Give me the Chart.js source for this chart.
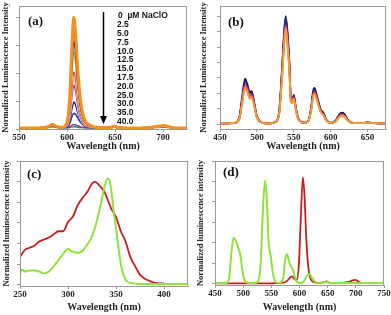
<!DOCTYPE html>
<html>
<head>
<meta charset="utf-8">
<script src="https://cdn.jsdelivr.net/npm/chart.js@4.4.1/dist/chart.umd.min.js"></script>
<style>
  html, body { margin: 0; padding: 0; background: #fff; }
  #wrap { position: relative; width: 391px; height: 315px; overflow: hidden; }
  canvas { position: absolute; }
</style>
</head>
<body>
<div id="wrap">
  <canvas id="chartA" width="195" height="152" style="left:0;top:0"></canvas>
  <canvas id="chartB" width="196" height="152" style="left:195px;top:0"></canvas>
  <canvas id="chartC" width="195" height="158" style="left:0;top:155px"></canvas>
  <canvas id="chartD" width="196" height="158" style="left:195px;top:155px"></canvas>
</div>
<script>
// ---- panel (a): Eu emission vs NaClO dose ----
var doses = ['0', '2.5', '5.0', '7.5', '10.0', '12.5', '15.0', '17.5', '20.0', '25.0', '30.0', '35.0', '40.0']
var doseColors = ['#f5901e', '#d9262b', '#2c2c9e', '#76c043', '#fff6c8', '#e0445a', '#f7cfd2', '#b03a48', '#ffffff', '#1c1c7a', '#2e3fb0', '#8a3fa0', '#3aa050']
var wlA = [550, 565, 575, 580, 585, 590, 595, 600, 603, 605, 607, 609, 611, 614, 618, 623, 630, 640, 645, 649, 654, 665, 685, 695, 701, 707, 715, 725]
var emA = [
  [0.01, 0.01, 0.012, 0.02, 0.04, 0.02, 0.015, 0.06, 0.31, 0.71, 1.0, 0.86, 0.56, 0.26, 0.09, 0.04, 0.015, 0.012, 0.015, 0.025, 0.013, 0.01, 0.012, 0.025, 0.032, 0.018, 0.01, 0.01],
  [0.01, 0.01, 0.012, 0.02, 0.04, 0.02, 0.015, 0.055, 0.277, 0.633, 0.89, 0.766, 0.5, 0.233, 0.081, 0.037, 0.015, 0.012, 0.015, 0.025, 0.013, 0.01, 0.012, 0.025, 0.031, 0.018, 0.01, 0.01],
  [0.01, 0.01, 0.012, 0.02, 0.039, 0.02, 0.015, 0.05, 0.247, 0.563, 0.79, 0.68, 0.445, 0.208, 0.073, 0.034, 0.015, 0.012, 0.015, 0.024, 0.013, 0.01, 0.012, 0.024, 0.03, 0.018, 0.01, 0.01],
  [0.01, 0.01, 0.012, 0.02, 0.038, 0.02, 0.015, 0.045, 0.217, 0.493, 0.69, 0.597, 0.39, 0.183, 0.065, 0.031, 0.015, 0.012, 0.015, 0.024, 0.013, 0.01, 0.012, 0.024, 0.03, 0.017, 0.01, 0.01],
  [0.01, 0.01, 0.012, 0.02, 0.037, 0.02, 0.015, 0.042, 0.2, 0.45, 0.63, 0.545, 0.357, 0.168, 0.06, 0.029, 0.014, 0.012, 0.015, 0.023, 0.013, 0.01, 0.012, 0.023, 0.029, 0.017, 0.01, 0.01],
  [0.01, 0.01, 0.012, 0.02, 0.036, 0.02, 0.015, 0.036, 0.163, 0.367, 0.51, 0.444, 0.29, 0.138, 0.05, 0.025, 0.014, 0.012, 0.015, 0.023, 0.013, 0.01, 0.012, 0.023, 0.029, 0.017, 0.01, 0.01],
  [0.01, 0.01, 0.012, 0.02, 0.035, 0.02, 0.015, 0.033, 0.145, 0.325, 0.45, 0.393, 0.258, 0.123, 0.046, 0.024, 0.014, 0.012, 0.014, 0.022, 0.012, 0.01, 0.012, 0.022, 0.028, 0.016, 0.01, 0.01],
  [0.01, 0.01, 0.012, 0.02, 0.034, 0.02, 0.015, 0.03, 0.127, 0.283, 0.39, 0.342, 0.225, 0.108, 0.041, 0.022, 0.014, 0.012, 0.014, 0.022, 0.012, 0.01, 0.012, 0.022, 0.028, 0.016, 0.01, 0.01],
  [0.01, 0.01, 0.012, 0.019, 0.033, 0.019, 0.015, 0.026, 0.106, 0.234, 0.32, 0.282, 0.186, 0.09, 0.036, 0.02, 0.013, 0.012, 0.014, 0.021, 0.012, 0.01, 0.012, 0.021, 0.027, 0.016, 0.01, 0.01],
  [0.01, 0.01, 0.012, 0.019, 0.032, 0.019, 0.014, 0.022, 0.082, 0.178, 0.24, 0.214, 0.152, 0.08, 0.035, 0.02, 0.013, 0.012, 0.014, 0.021, 0.012, 0.01, 0.012, 0.021, 0.026, 0.015, 0.01, 0.01],
  [0.01, 0.01, 0.012, 0.018, 0.03, 0.018, 0.014, 0.017, 0.052, 0.108, 0.14, 0.13, 0.1, 0.06, 0.028, 0.017, 0.012, 0.011, 0.013, 0.02, 0.012, 0.01, 0.011, 0.02, 0.025, 0.015, 0.01, 0.01],
  [0.01, 0.01, 0.011, 0.016, 0.026, 0.016, 0.013, 0.012, 0.02, 0.032, 0.04, 0.036, 0.028, 0.018, 0.013, 0.011, 0.011, 0.011, 0.012, 0.017, 0.011, 0.01, 0.011, 0.018, 0.022, 0.014, 0.01, 0.01],
  [0.01, 0.01, 0.011, 0.014, 0.02, 0.014, 0.012, 0.011, 0.014, 0.018, 0.02, 0.019, 0.016, 0.013, 0.011, 0.01, 0.01, 0.01, 0.011, 0.015, 0.011, 0.01, 0.011, 0.015, 0.018, 0.013, 0.01, 0.01]
]

// ---- panel (b): Tb emission, all doses nearly overlapping ----
var colorsB = ['#f5a02a', '#f06a8c', '#d9262b', '#2b2b9a', '#151515']
var wlB = [450, 470, 476, 480, 484, 487, 490, 493, 496, 500, 505, 515, 525, 530, 534, 537, 539, 541, 544, 546, 548, 550, 553, 557, 565, 570, 574, 576, 578, 581, 584, 586, 588, 590, 594, 600, 606, 610, 613, 616, 619, 623, 630, 640, 650, 660, 675]
var emB = [
  [0.01, 0.02, 0.06, 0.27, 0.46, 0.42, 0.33, 0.34, 0.25, 0.08, 0.03, 0.01, 0.03, 0.12, 0.58, 1.04, 1.24, 1.08, 0.69, 0.3, 0.27, 0.33, 0.17, 0.05, 0.02, 0.045, 0.2, 0.34, 0.39, 0.32, 0.22, 0.17, 0.14, 0.12, 0.05, 0.02, 0.03, 0.07, 0.1, 0.11, 0.095, 0.05, 0.02, 0.015, 0.02, 0.015, 0.01],
  [0.01, 0.02, 0.06, 0.28, 0.49, 0.44, 0.35, 0.36, 0.26, 0.09, 0.03, 0.01, 0.03, 0.12, 0.6, 1.06, 1.26, 1.1, 0.7, 0.3, 0.27, 0.34, 0.17, 0.05, 0.02, 0.045, 0.21, 0.36, 0.4, 0.33, 0.23, 0.17, 0.14, 0.12, 0.05, 0.02, 0.035, 0.08, 0.11, 0.12, 0.1, 0.05, 0.02, 0.015, 0.02, 0.015, 0.01],
  [0.01, 0.02, 0.07, 0.3, 0.51, 0.46, 0.37, 0.38, 0.27, 0.09, 0.03, 0.01, 0.03, 0.13, 0.62, 1.08, 1.28, 1.13, 0.72, 0.31, 0.28, 0.35, 0.18, 0.05, 0.02, 0.05, 0.22, 0.37, 0.42, 0.34, 0.24, 0.18, 0.15, 0.13, 0.05, 0.02, 0.035, 0.085, 0.12, 0.13, 0.11, 0.05, 0.02, 0.015, 0.022, 0.015, 0.01],
  [0.01, 0.02, 0.07, 0.33, 0.56, 0.5, 0.4, 0.41, 0.29, 0.1, 0.03, 0.01, 0.03, 0.14, 0.68, 1.18, 1.38, 1.22, 0.78, 0.33, 0.29, 0.37, 0.19, 0.06, 0.02, 0.05, 0.24, 0.4, 0.45, 0.36, 0.26, 0.19, 0.16, 0.14, 0.06, 0.02, 0.04, 0.09, 0.13, 0.14, 0.12, 0.06, 0.02, 0.015, 0.022, 0.015, 0.01],
  [0.01, 0.02, 0.08, 0.35, 0.59, 0.52, 0.42, 0.43, 0.3, 0.1, 0.03, 0.01, 0.03, 0.15, 0.7, 1.2, 1.4, 1.25, 0.8, 0.34, 0.3, 0.38, 0.2, 0.06, 0.02, 0.05, 0.25, 0.42, 0.47, 0.38, 0.27, 0.2, 0.17, 0.15, 0.06, 0.02, 0.04, 0.1, 0.14, 0.15, 0.13, 0.06, 0.02, 0.015, 0.025, 0.015, 0.01]
]

// ---- panel (c): excitation spectra ----
var wlCred = [250, 255, 260, 265, 270, 275, 280, 285, 290, 295, 300, 305, 310, 315, 320, 325, 328, 332, 338, 345, 350, 355, 360, 365, 370, 375, 380, 385, 390, 400]
var exRed = [0.27, 0.34, 0.36, 0.38, 0.42, 0.44, 0.46, 0.49, 0.52, 0.52, 0.61, 0.66, 0.77, 0.84, 0.9, 0.98, 1.0, 0.97, 0.9, 0.74, 0.66, 0.52, 0.42, 0.27, 0.18, 0.1, 0.06, 0.04, 0.02, 0.015]
var wlCgreen = [250, 252, 255, 260, 265, 270, 275, 280, 285, 290, 295, 300, 303, 306, 310, 315, 320, 325, 330, 335, 338, 341, 343, 345, 348, 350, 353, 356, 360, 365, 375, 400, 425]
var exGreen = [0.1, 0.15, 0.13, 0.14, 0.14, 0.13, 0.11, 0.13, 0.18, 0.24, 0.3, 0.35, 0.33, 0.32, 0.31, 0.33, 0.39, 0.47, 0.62, 0.82, 0.95, 1.03, 1.02, 0.92, 0.68, 0.55, 0.33, 0.16, 0.05, 0.02, 0.01, 0.01, 0.01]

// ---- panel (d): emission spectra ----
var wlDgreen = [450, 470, 475, 479, 483, 487, 491, 495, 499, 503, 510, 520, 527, 531, 535, 539, 542, 545, 549, 553, 558, 565, 571, 575, 578, 582, 586, 589, 593, 600, 607, 612, 617, 622, 628, 640, 648, 656, 700, 750]
var emGreen = [0.01, 0.01, 0.05, 0.3, 0.45, 0.42, 0.36, 0.28, 0.12, 0.03, 0.01, 0.01, 0.03, 0.2, 0.72, 1.01, 0.82, 0.42, 0.27, 0.1, 0.02, 0.01, 0.06, 0.25, 0.29, 0.21, 0.16, 0.13, 0.04, 0.01, 0.02, 0.07, 0.1, 0.06, 0.02, 0.01, 0.02, 0.01, 0.01, 0.01]
var wlDred = [450, 520, 570, 578, 583, 587, 591, 595, 599, 602, 606, 609, 612, 615, 619, 625, 635, 643, 648, 655, 670, 688, 694, 699, 704, 710]
var emRed = [0.005, 0.005, 0.01, 0.03, 0.06, 0.075, 0.05, 0.04, 0.2, 0.6, 1.04, 0.85, 0.45, 0.2, 0.06, 0.02, 0.01, 0.015, 0.025, 0.01, 0.01, 0.02, 0.035, 0.04, 0.025, 0.01]

var ticksA = [550, 600, 650, 700]
var ticksB = [450, 500, 550, 600, 650]
var ticksC = [250, 300, 350, 400]
var ticksD = [450, 500, 550, 600, 650, 700, 750]

var serif = 'Liberation Serif'
var frameColor = '#9a9a9a'
var red = '#cc1c1c'
var lime = '#8fe33c'

function series(xs, ys, color, width) {
  return {
    data: xs.map(function(x, i){ return { x: x, y: ys[i] } }),
    borderColor: color,
    borderWidth: width,
    pointRadius: 0,
    cubicInterpolationMode: 'monotone',
    fill: false
  }
}

var framePlugin = {
  id: 'frame',
  afterDatasetsDraw: function(chart, args, opts) {
    var a = chart.chartArea, ctx = chart.ctx
    ctx.save()
    ctx.strokeStyle = frameColor
    ctx.lineWidth = 1
    ctx.strokeRect(a.left + 0.5, a.top + 0.5, a.right - a.left - 1, a.bottom - a.top)
    ctx.fillStyle = '#111'
    ctx.font = 'bold 13px "' + serif + '"'
    ctx.textBaseline = 'middle'
    ctx.fillText(opts.label, a.left + opts.dx, a.top + opts.dy)
    ctx.restore()
  }
}

var doseLegend = {
  id: 'doseLegend',
  afterDraw: function(chart) {
    var a = chart.chartArea, ctx = chart.ctx
    ctx.save()
    // arrow
    var ax = a.left + 84.5
    ctx.strokeStyle = '#000'
    ctx.fillStyle = '#000'
    ctx.lineWidth = 1.5
    ctx.beginPath()
    ctx.moveTo(ax, a.top + 6)
    ctx.lineTo(ax, a.top + 111)
    ctx.stroke()
    ctx.beginPath()
    ctx.moveTo(ax - 3.5, a.top + 110)
    ctx.lineTo(ax + 3.5, a.top + 110)
    ctx.lineTo(ax, a.top + 118)
    ctx.closePath()
    ctx.fill()
    // dose list
    ctx.fillStyle = '#111'
    ctx.font = 'bold 8.5px "Liberation Sans"'
    ctx.textBaseline = 'middle'
    doses.forEach(function(d, i) {
      var txt = i === 0 ? d + '  \u00b5M NaClO' : d
      ctx.fillText(txt, a.left + (i === 0 ? 99 : 98), a.top + 10 + i * 8.8)
    })
    ctx.restore()
  }
}

function makeChart(id, o) {
  return new Chart(document.getElementById(id), {
    type: 'line',
    data: { datasets: o.datasets },
    options: {
      responsive: false,
      animation: false,
      events: [],
      layout: { padding: { top: 6, right: o.padRight, left: 0, bottom: 0 } },
      plugins: {
        legend: { display: false },
        tooltip: { enabled: false },
        frame: { label: o.label, dx: o.labelDx, dy: o.labelDy }
      },
      scales: {
        x: {
          type: 'linear',
          min: o.xMin,
          max: o.xMax,
          afterBuildTicks: function(s) { s.ticks = o.xTicks.map(function(v){ return { value: v } }) },
          afterFit: function(s) { s.height = o.xHeight },
          grid: { drawOnChartArea: false, tickLength: 3, color: frameColor },
          border: { color: frameColor },
          ticks: { padding: 0, autoSkip: false, maxRotation: 0, color: '#222', font: { family: serif, weight: 'bold', size: 9 } },
          title: { display: true, text: 'Wavelength (nm)', color: '#222', padding: 0, font: { family: serif, weight: 'bold', size: 10 } }
        },
        y: {
          min: o.yMin,
          max: o.yMax,
          afterBuildTicks: function(s) { s.ticks = o.yTicks.map(function(v){ return { value: v } }) },
          afterFit: function(s) { s.width = o.yWidth },
          grid: { drawOnChartArea: false, tickLength: 3, color: frameColor },
          border: { color: frameColor },
          ticks: { display: false },
          title: { display: true, text: o.yTitle, color: '#222', padding: { top: o.yTitlePad }, font: { family: serif, weight: 'bold', size: 8.5 } }
        }
      }
    },
    plugins: o.plugins
  })
}

var datasetsA = emA.map(function(ys, i) { return series(wlA, ys, doseColors[i], i === 0 ? 3 : 1.6) })
makeChart('chartA', {
  datasets: datasetsA, label: '(a)', labelDx: 9, labelDy: 16,
  xMin: 550, xMax: 725, xTicks: ticksA, xHeight: 23,
  yMin: 0, yMax: 1.1, yTicks: [0, 0.25, 0.5, 0.75, 1], yWidth: 19, yTitlePad: 1,
  yTitle: 'Normalized Luminescence Intensity', padRight: 8,
  plugins: [framePlugin, doseLegend]
})

var datasetsB = emB.map(function(ys, i) { return series(wlB, ys, colorsB[i], 1.8) })
makeChart('chartB', {
  datasets: datasetsB, label: '(b)', labelDx: 8, labelDy: 17,
  xMin: 450, xMax: 675, xTicks: ticksB, xHeight: 23,
  yMin: -0.06, yMax: 1.53, yTicks: [0, 0.2, 0.4, 0.6, 0.8, 1, 1.2, 1.4], yWidth: 25, yTitlePad: 4,
  yTitle: 'Normalized Luminescence Intensity', padRight: 5,
  plugins: [framePlugin]
})

makeChart('chartC', {
  datasets: [series(wlCgreen, exGreen, lime, 2), series(wlCred, exRed, red, 1.8)],
  label: '(c)', labelDx: 7, labelDy: 14,
  xMin: 250, xMax: 425, xTicks: ticksC, xHeight: 27,
  yMin: -0.01, yMax: 1.2, yTicks: [0, 0.2, 0.4, 0.6, 0.8, 1, 1.2], yWidth: 20, yTitlePad: 2,
  yTitle: 'Normalized luminescence intensity', padRight: 7,
  plugins: [framePlugin]
})

makeChart('chartD', {
  datasets: [series(wlDgreen, emGreen, lime, 2), series(wlDred, emRed, red, 1.8)],
  label: '(d)', labelDx: 8, labelDy: 12,
  xMin: 450, xMax: 750, xTicks: ticksD, xHeight: 28,
  yMin: -0.01, yMax: 1.2, yTicks: [0, 0.2, 0.4, 0.6, 0.8, 1, 1.2], yWidth: 20, yTitlePad: 1,
  yTitle: 'Normalized luminescence intensity', padRight: 7,
  plugins: [framePlugin]
})
</script>
</body>
</html>
